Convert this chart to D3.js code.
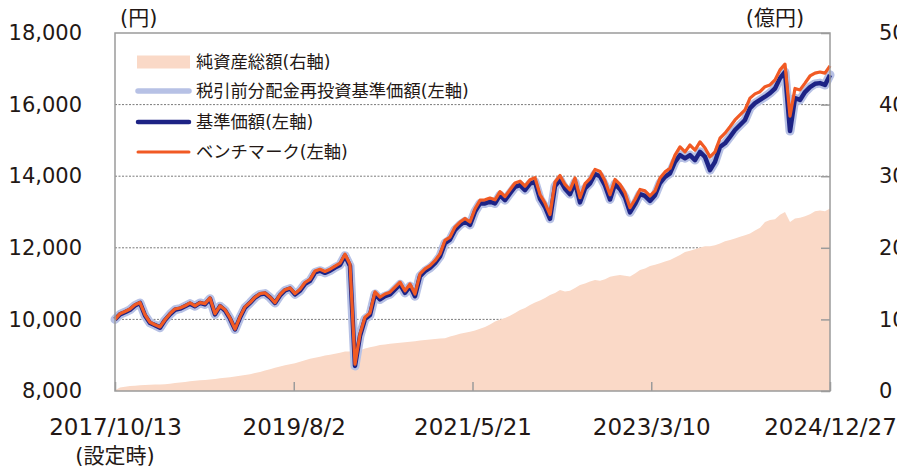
<!DOCTYPE html>
<html>
<head>
<meta charset="utf-8">
<script src="https://cdn.jsdelivr.net/npm/d3@7"></script>
<style>
  body { margin: 0; background: #fff; }
  text { font-family: "DejaVu Sans", "Noto Sans CJK JP", sans-serif; fill: #231815; }
</style>
</head>
<body>
<div id="chart"></div>
<script>
// period of the chart, the series are read at even steps between these two dates
const startDate = "2017/10/13";
const endDate = "2024/12/27";
const xTickLabels = ["2017/10/13", "2019/8/2", "2021/5/21", "2023/3/10", "2024/12/27"];
const leftTicks = [8000, 10000, 12000, 14000, 16000, 18000];
const rightTicks = [0, 100, 200, 300, 400, 500];
const gridTicks = [10000, 12000, 14000, 16000];
const legendLabels = ["純資産総額(右軸)", "税引前分配金再投資基準価額(左軸)", "基準価額(左軸)", "ベンチマーク(左軸)"];

// 基準価額 (円)
const nav = [
  10000,10140,10200,10270,10390,10460,10110,9900,9840,9770,9980,10140,
  10270,10300,10370,10440,10370,10460,10420,10580,10140,10370,10250,10020,
  9720,10050,10330,10460,10610,10700,10720,10610,10460,10670,10810,10860,
  10700,10800,10990,11080,11310,11360,11300,11360,11450,11520,11780,11490,
  8700,9540,10010,10120,10710,10560,10650,10700,10840,10980,10740,10930,
  10650,11210,11350,11440,11570,11760,12130,12230,12500,12640,12740,12640,
  13010,13240,13240,13290,13240,13470,13330,13520,13700,13750,13610,13790,
  13840,13370,13140,12810,13720,13900,13650,13500,13830,13270,13660,13800,
  14060,14000,13740,13350,13780,13640,13410,12990,13220,13500,13450,13310,
  13470,13810,13980,14080,14400,14590,14500,14590,14450,14680,14540,14170,
  14400,14820,14920,15100,15290,15430,15570,15900,16040,16130,16220,16320,
  16450,16740,16910,15260,16180,16130,16350,16490,16580,16600,16550,16830
];

// 税引前分配金再投資基準価額 (円) - drawn on top of nav in the picture
const reinvestNav = [
  10000,10140,10200,10270,10390,10460,10110,9900,9840,9770,9980,10140,
  10270,10300,10370,10440,10370,10460,10420,10580,10140,10370,10250,10020,
  9720,10050,10330,10460,10610,10700,10720,10610,10460,10670,10810,10860,
  10700,10800,10990,11080,11310,11360,11300,11360,11450,11520,11780,11490,
  8700,9540,10010,10120,10710,10560,10650,10700,10840,10980,10740,10930,
  10650,11210,11350,11440,11570,11760,12130,12230,12500,12640,12740,12640,
  13010,13240,13240,13290,13240,13470,13330,13520,13700,13750,13610,13790,
  13840,13370,13140,12810,13720,13900,13650,13500,13830,13270,13660,13800,
  14060,14000,13740,13350,13780,13640,13410,12990,13220,13500,13450,13310,
  13470,13810,13980,14080,14400,14590,14500,14590,14450,14680,14540,14170,
  14400,14820,14920,15100,15290,15430,15570,15900,16040,16130,16220,16320,
  16450,16740,16910,15260,16180,16130,16350,16490,16580,16600,16550,16830
];

// ベンチマーク (円)
const benchmark = [
  10000,10160,10220,10290,10410,10470,10130,9920,9850,9790,9990,10160,
  10290,10320,10380,10460,10380,10470,10440,10600,10160,10380,10270,10040,
  9730,10070,10350,10470,10620,10720,10740,10620,10470,10690,10830,10880,
  10720,10840,11030,11120,11350,11400,11340,11400,11490,11570,11820,11540,
  8750,9590,10060,10180,10770,10620,10710,10760,10900,11040,10800,10990,
  10710,11270,11410,11500,11640,11830,12210,12300,12580,12720,12820,12720,
  13090,13330,13340,13390,13340,13570,13430,13620,13810,13860,13720,13900,
  13960,13490,13250,12930,13840,14020,13770,13620,13950,13400,13790,13930,
  14190,14130,13870,13480,13910,13770,13540,13120,13350,13630,13590,13450,
  13590,13950,14120,14220,14590,14820,14680,14870,14730,14960,14790,14540,
  14680,15060,15200,15380,15570,15710,15850,16180,16300,16360,16500,16550,
  16690,16970,17130,15680,16450,16410,16600,16800,16880,16910,16880,17080
];

// 純資産総額 (億円)
const netAssets = [
  1,5,6,7,7.5,8,8.4,8.6,9,9.2,9.6,10.2,
  11,11.7,12.5,13.5,14.4,15,15.5,16.1,16.8,17.8,18.5,19.3,
  20.3,21.3,22.3,23.5,25,26.5,28.5,30.5,32.5,34.3,36,37.5,
  38.7,40.8,43,45,46.5,48,49.5,50.8,52,53.5,55,55,
  52,57,59.3,61,62.5,64.3,65,66,66.6,67.3,68,68.7,
  69.6,70.5,71.3,72,72.7,73.3,73.7,76,78,80,81.5,82.8,
  84.5,87,89.5,93,97,100,102,105,109,113,116,120,
  123.5,126.5,130,134,137,141,139,140,144,148,150,153,
  155,154,156,159.6,161,162,161,160,164,169,171,174.5,
  176.5,178.5,181,183,186.5,190,194,196,198,200.5,202,202,
  203.5,206,209,211,213,215.5,217.5,220,224,228,236,239,
  240,246,250,236,241,242,244,247,251,252,251,255
];

const colors = {
  area: "#fad9c7",
  reinvest: "#b7c1e5",
  nav: "#1d2385",
  bench: "#f15a24",
  frame: "#9b9b9b",
  grid: "#7a7a7a"
};

const wSvg = 897;
const hSvg = 472;
const plotLeft = 115, plotRight = 830, plotTop = 33, plotBottom = 391;

const parseDate = d3.timeParse("%Y/%m/%d");
const t0 = parseDate(startDate);
const t1 = parseDate(endDate);
const dates = nav.map((d, i) => new Date(+t0 + (t1 - t0) * i / (nav.length - 1)));

const x = d3.scaleTime([t0, t1], [plotLeft, plotRight]);
const yLeft = d3.scaleLinear([8000, 18000], [plotBottom, plotTop]);
const yRight = d3.scaleLinear([0, 500], [plotBottom, plotTop]);

const svg = d3.select("#chart")
  .append("svg")
  .attr("width", wSvg)
  .attr("height", hSvg);

// dotted grid lines
svg.append("g")
  .selectAll("line")
  .data(gridTicks)
  .join("line")
  .attr("x1", plotLeft)
  .attr("x2", plotRight)
  .attr("y1", d => yLeft(d))
  .attr("y2", d => yLeft(d))
  .attr("stroke", colors.grid)
  .attr("stroke-width", 1)
  .attr("stroke-dasharray", "2,1.5");

// net assets area
const area = d3.area()
  .x((d, i) => x(dates[i]))
  .y0(yRight(0))
  .y1(d => yRight(d));

svg.append("path")
  .datum(netAssets)
  .attr("d", area)
  .attr("fill", colors.area);

// lines
const line = d3.line()
  .x((d, i) => x(dates[i]))
  .y(d => yLeft(d));

svg.append("path")
  .datum(reinvestNav)
  .attr("d", line)
  .attr("fill", "none")
  .attr("stroke", colors.reinvest)
  .attr("stroke-width", 9)
  .attr("stroke-linejoin", "round")
  .attr("stroke-linecap", "round");

svg.append("path")
  .datum(nav)
  .attr("d", line)
  .attr("fill", "none")
  .attr("stroke", colors.nav)
  .attr("stroke-width", 4.5)
  .attr("stroke-linejoin", "round");

svg.append("path")
  .datum(benchmark)
  .attr("d", line)
  .attr("fill", "none")
  .attr("stroke", colors.bench)
  .attr("stroke-width", 3.2)
  .attr("stroke-linejoin", "round");

// frame
svg.append("rect")
  .attr("x", plotLeft)
  .attr("y", plotTop)
  .attr("width", plotRight - plotLeft)
  .attr("height", plotBottom - plotTop)
  .attr("fill", "none")
  .attr("stroke", colors.frame)
  .attr("stroke-width", 1.5);

// x axis
const xTicks = xTickLabels.map(parseDate);
const xAxis = d3.axisBottom(x)
  .tickValues(xTicks)
  .tickFormat((d, i) => xTickLabels[i])
  .tickSizeInner(-9)
  .tickSizeOuter(0)
  .tickPadding(28);

const gx = svg.append("g")
  .attr("transform", `translate(0, ${plotBottom})`)
  .call(xAxis);
gx.select(".domain").remove();
gx.selectAll(".tick line").attr("stroke", colors.frame).attr("stroke-width", 1.5);
gx.selectAll("text").attr("font-size", 23);

// left axis
const yAxisLeft = d3.axisLeft(yLeft)
  .tickValues(leftTicks)
  .tickFormat(d3.format(","))
  .tickSize(0)
  .tickPadding(33);

const gyl = svg.append("g")
  .attr("transform", `translate(${plotLeft}, 0)`)
  .call(yAxisLeft);
gyl.select(".domain").remove();
gyl.selectAll("text").attr("font-size", 21);

// right axis (labels run off the right edge, as in the original)
const yAxisRight = d3.axisRight(yRight)
  .tickValues(rightTicks)
  .tickSizeInner(-9)
  .tickSizeOuter(0)
  .tickPadding(49);

const gyr = svg.append("g")
  .attr("transform", `translate(${plotRight}, 0)`)
  .call(yAxisRight);
gyr.select(".domain").remove();
gyr.selectAll(".tick line").attr("stroke", colors.frame).attr("stroke-width", 1.5);
gyr.selectAll("text").attr("font-size", 21);

// unit labels
svg.append("text")
  .attr("x", 120)
  .attr("y", 25)
  .attr("font-size", 21)
  .text("(円)");

svg.append("text")
  .attr("x", 775)
  .attr("y", 25)
  .attr("font-size", 21)
  .attr("text-anchor", "middle")
  .text("(億円)");

svg.append("text")
  .attr("x", x(t0))
  .attr("y", 463)
  .attr("font-size", 21)
  .attr("text-anchor", "middle")
  .text("(設定時)");

// legend
const legendY = [62, 91, 122, 152];
const lg = svg.append("g");

lg.append("rect")
  .attr("x", 137)
  .attr("y", legendY[0] - 6.5)
  .attr("width", 53)
  .attr("height", 13)
  .attr("fill", colors.area);

const legendLines = [
  { color: colors.reinvest, width: 5.5, row: 1 },
  { color: colors.nav, width: 4.5, row: 2 },
  { color: colors.bench, width: 3, row: 3 }
];

lg.selectAll("line")
  .data(legendLines)
  .join("line")
  .attr("x1", 138)
  .attr("x2", 189)
  .attr("y1", d => legendY[d.row])
  .attr("y2", d => legendY[d.row])
  .attr("stroke", d => d.color)
  .attr("stroke-width", d => d.width)
  .attr("stroke-linecap", "round");

lg.selectAll("text")
  .data(legendLabels)
  .join("text")
  .attr("x", 196)
  .attr("y", (d, i) => legendY[i])
  .attr("dy", "0.36em")
  .attr("font-size", 17.3)
  .text(d => d);
</script>
</body>
</html>
